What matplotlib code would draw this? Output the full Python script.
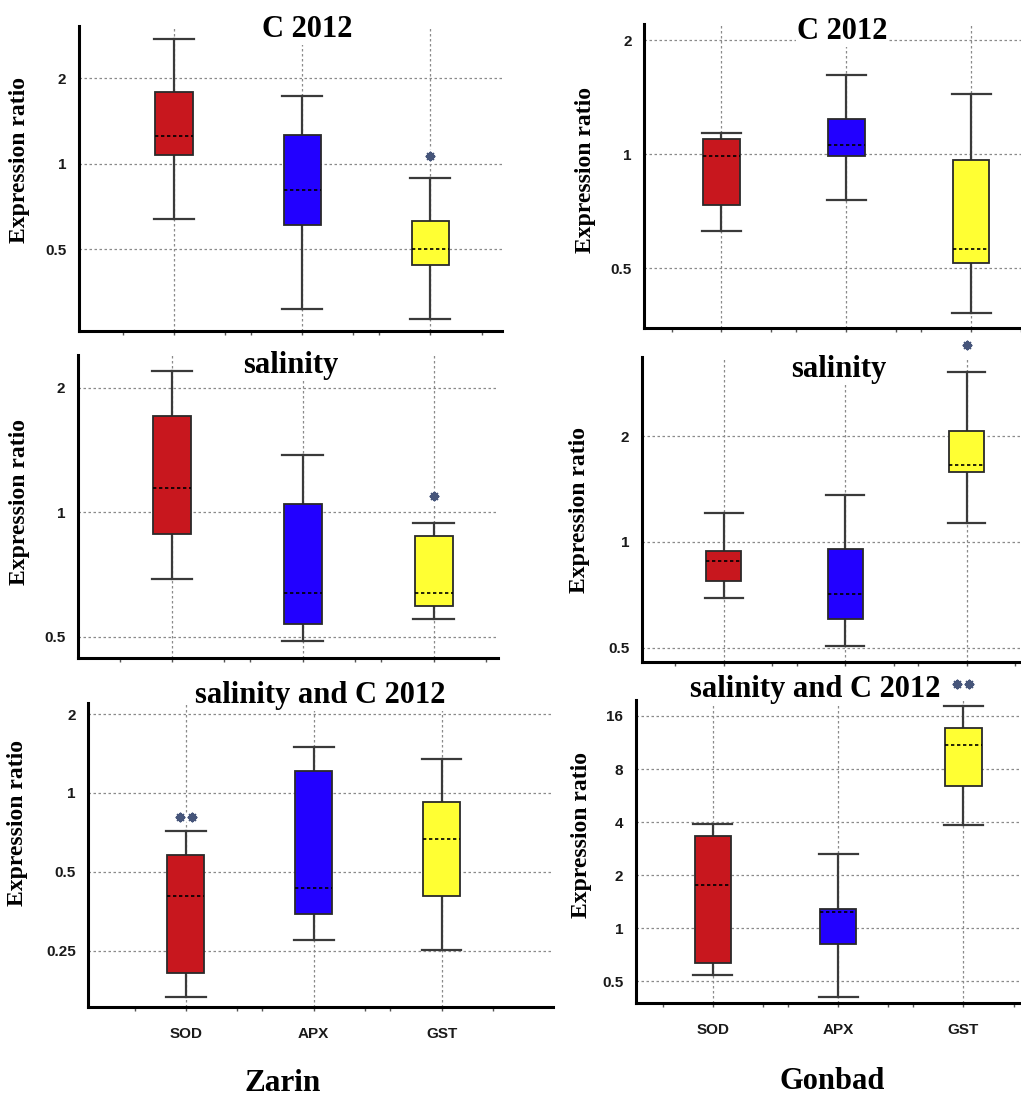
import matplotlib
matplotlib.use("Agg")
import matplotlib.pyplot as plt
from matplotlib.ticker import FixedLocator, FixedFormatter, NullLocator

# ---------------------------------------------------------------- data
genes = ["SOD", "APX", "GST"]
gene_colors = ["#C8171E", "#2200FF", "#FFFF33"]

# Zarin, C 2012
zc_lo = [0.64, 0.31, 0.285]
zc_q1 = [1.07, 0.61, 0.44]
zc_med = [1.25, 0.81, 0.50]
zc_q3 = [1.79, 1.26, 0.63]
zc_hi = [2.75, 1.73, 0.89]

# Zarin, salinity
zs_lo = [0.689, 0.489, 0.553]
zs_q1 = [0.886, 0.538, 0.595]
zs_med = [1.147, 0.639, 0.639]
zs_q3 = [1.71, 1.045, 0.878]
zs_hi = [2.19, 1.378, 0.942]

# Zarin, salinity and C 2012
zsc_lo = [0.167, 0.275, 0.252]
zsc_q1 = [0.206, 0.345, 0.405]
zsc_med = [0.404, 0.435, 0.669]
zsc_q3 = [0.578, 1.21, 0.921]
zsc_hi = [0.716, 1.50, 1.345]

# Gonbad, C 2012
gc_lo = [0.627, 0.756, 0.38]
gc_q1 = [0.733, 0.99, 0.515]
gc_med = [0.99, 1.06, 0.563]
gc_q3 = [1.095, 1.24, 0.966]
gc_hi = [1.14, 1.62, 1.44]

# Gonbad, salinity
gs_lo = [0.691, 0.504, 1.135]
gs_q1 = [0.776, 0.604, 1.582]
gs_med = [0.883, 0.71, 1.656]
gs_q3 = [0.943, 0.957, 2.07]
gs_hi = [1.207, 1.36, 3.04]

# Gonbad, salinity and C 2012
gsc_lo = [0.544, 0.406, 3.84]
gsc_q1 = [0.633, 0.815, 6.38]
gsc_med = [1.75, 1.24, 10.94]
gsc_q3 = [3.34, 1.29, 13.66]
gsc_hi = [3.92, 2.64, 18.2]

# significance marks: (gene index, height, number of stars)
zc_sig = (2, 1.065, 1)
zs_sig = (2, 1.095, 1)
zsc_sig = (0, 0.81, 2)
gc_sig = None
gs_sig = (2, 3.64, 1)
gsc_sig = (2, 24.3, 2)

ticks_small = [0.5, 1, 2]
labels_small = ["0.5", "1", "2"]
ticks_zsc = [0.25, 0.5, 1, 2]
labels_zsc = ["0.25", "0.5", "1", "2"]
ticks_gsc = [0.5, 1, 2, 4, 8, 16]
labels_gsc = ["0.5", "1", "2", "4", "8", "16"]

panel_titles = ["C 2012", "salinity", "salinity and C 2012"]
cultivars = ["Zarin", "Gonbad"]

# ---------------------------------------------------------------- layout
W, H = 1021, 1097
fig = plt.figure(figsize=(W / 100, H / 100), dpi=100)
fig.patch.set_facecolor("white")

SERIF = "Liberation Serif"
SANS = "Liberation Sans"


def px_rect(l, r, t, b):
    return [l / W, 1 - b / H, (r - l) / W, (b - t) / H]


def fx(x):
    return x / W


def fy(y):
    return 1 - y / H


panels = [
    # stats, sig, ticks, labels, rect, xlim, ylim, title, title pos, ylabel pos, bottom row
    ((zc_lo, zc_q1, zc_med, zc_q3, zc_hi), zc_sig, ticks_small, labels_small,
     px_rect(79, 502, 26, 331), (0.258, 3.56), (0.2587, 3.046),
     panel_titles[0], (307, 36.7), (20, 160), False),
    ((gc_lo, gc_q1, gc_med, gc_q3, gc_hi), gc_sig, ticks_small, labels_small,
     px_rect(644.3, 1060, 24, 328.3), (0.382, 3.71), (0.347, 2.21),
     panel_titles[0], (842, 39.3), (585, 170), False),
    ((zs_lo, zs_q1, zs_med, zs_q3, zs_hi), zs_sig, ticks_small, labels_small,
     px_rect(77.7, 497.7, 355, 658.3), (0.28, 3.49), (0.444, 2.40),
     panel_titles[1], (291, 373.3), (19, 502), False),
    ((gs_lo, gs_q1, gs_med, gs_q3, gs_hi), gs_sig, ticks_small, labels_small,
     px_rect(641.7, 1060, 356.7, 661.7), (0.323, 3.77), (0.456, 3.37),
     panel_titles[1], (839, 376.7), (580, 510), False),
    ((zsc_lo, zsc_q1, zsc_med, zsc_q3, zsc_hi), zsc_sig, ticks_zsc, labels_zsc,
     px_rect(88.3, 553, 703.3, 1007.3), (0.239, 3.87), (0.152, 2.2),
     panel_titles[2], (320, 702.7), (18, 823), True),
    ((gsc_lo, gsc_q1, gsc_med, gsc_q3, gsc_hi), gsc_sig, ticks_gsc, labels_gsc,
     px_rect(635.7, 1060, 700, 1003.3), (0.385, 3.77), (0.376, 19.7),
     panel_titles[2], (815, 696.7), (582, 835), True),
]

positions = [1, 2, 3]
grid_kw = dict(color="#8a8a8a", linestyle=(0, (2, 2)), linewidth=0.9)

for stats, sig, ticks, labels, rect, xlim, ylim, title, tpos, ypos, bottom in panels:
    ax = fig.add_axes(rect)
    ax.set_yscale("log", base=2)
    lo, q1, med, q3, hi = stats
    bstats = [dict(whislo=lo[i], q1=q1[i], med=med[i], q3=q3[i], whishi=hi[i],
                   label=genes[i]) for i in range(len(genes))]
    parts = ax.bxp(bstats, positions=positions, widths=0.29, capwidths=0.31,
                   patch_artist=True, showfliers=False, manage_ticks=False,
                   boxprops=dict(edgecolor="#2a2a2a", linewidth=1.3),
                   medianprops=dict(color="black", linestyle=(0, (2, 1.6)), linewidth=1.2),
                   whiskerprops=dict(color="#3a3a3a", linewidth=1.6),
                   capprops=dict(color="#3a3a3a", linewidth=1.6))
    for patch, c in zip(parts["boxes"], gene_colors):
        patch.set_facecolor(c)
        patch.set_zorder(3)
    for ln in parts["medians"]:
        ln.set_zorder(4)

    ax.set_xlim(*xlim)
    ax.set_ylim(*ylim)
    ax.yaxis.set_major_locator(FixedLocator(ticks))
    ax.yaxis.set_major_formatter(FixedFormatter(labels))
    ax.yaxis.set_minor_locator(NullLocator())
    ax.xaxis.set_major_locator(FixedLocator(positions))
    ax.xaxis.set_minor_locator(FixedLocator([0.6, 1.4, 1.6, 2.4, 2.6, 3.4]))
    if bottom:
        ax.xaxis.set_major_formatter(FixedFormatter(genes))
    else:
        ax.xaxis.set_major_formatter(FixedFormatter(["", "", ""]))

    ax.grid(True, which="major", **grid_kw)
    ax.set_axisbelow(True)
    for side in ("top", "right"):
        ax.spines[side].set_visible(False)
    for side in ("left", "bottom"):
        ax.spines[side].set_linewidth(2.2)
        ax.spines[side].set_color("black")

    ax.tick_params(axis="y", length=0, pad=9, labelsize=11, labelcolor="#1a1a1a")
    ax.tick_params(axis="x", which="both", direction="out", length=3, width=1,
                   color="#555555", pad=11, labelsize=11, labelcolor="#1a1a1a")
    for lab in ax.get_yticklabels() + ax.get_xticklabels():
        lab.set_fontfamily(SANS)
        lab.set_fontweight("bold")

    if sig is not None:
        gi, yv, n = sig
        offs = [0.0] if n == 1 else [-0.048, 0.048]
        xs = [positions[gi] + o for o in offs]
        ax.scatter(xs, [yv] * n, marker="o", s=110, color="white", zorder=5,
                   clip_on=False, linewidths=0)
        ax.scatter(xs, [yv] * n, marker=(8, 2, 0), s=30, color="#46557a",
                   linewidths=1.6, zorder=6, clip_on=False)

    fig.text(fx(tpos[0]), fy(tpos[1]), title, ha="center", va="baseline",
             fontsize=22, fontweight="bold", family=SERIF, color="black",
             bbox=dict(facecolor="white", edgecolor="none", pad=0.6), zorder=10)
    fig.text(fx(ypos[0]), fy(ypos[1]), "Expression ratio", rotation=90,
             ha="center", va="center", fontsize=17, fontweight="bold",
             family=SERIF, color="black")

fig.text(fx(283), fy(1091), cultivars[0], ha="center", va="baseline",
         fontsize=22.5, fontweight="bold", family=SERIF)
fig.text(fx(832), fy(1089), cultivars[1], ha="center", va="baseline",
         fontsize=22, fontweight="bold", family=SERIF)

fig.savefig("out.png", dpi=100, facecolor="white")
